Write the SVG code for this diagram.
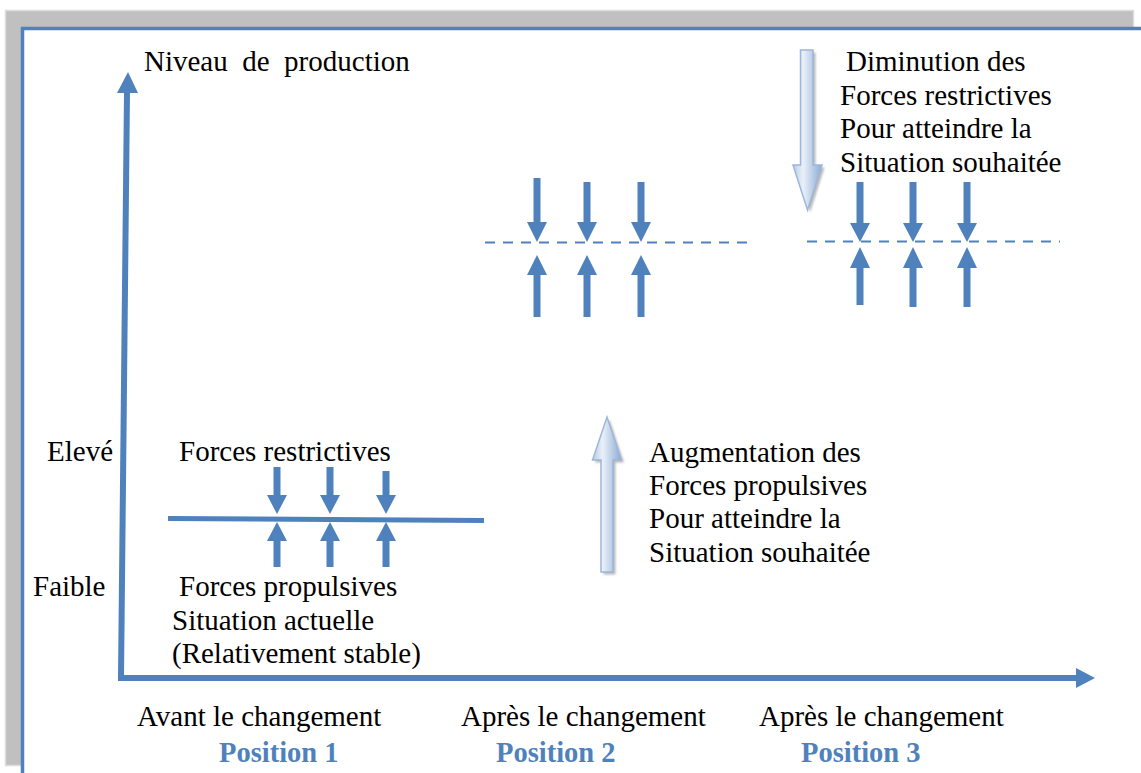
<svg xmlns="http://www.w3.org/2000/svg" width="1141" height="773" viewBox="0 0 1141 773">
  <style>
    .t { font-family: "Liberation Serif", "Times New Roman", serif; font-size: 29px; fill: #000; }
    .pos { font-family: "Liberation Serif", "Times New Roman", serif; font-size: 28.5px; font-weight: bold; fill: #4f81bd; }
    .force { fill: #4f81bd; }
    .axis { stroke: #4f81bd; stroke-width: 6; fill: none; }
    .level { stroke: #4f81bd; stroke-width: 5; fill: none; }
    .dash { stroke: #4f81bd; stroke-width: 2.2; stroke-dasharray: 10 8; fill: none; }
    .big { fill: url(#bigFill); stroke: #9cb7db; stroke-width: 1.5; }
    .bigShadow { fill: #9a9a9a; opacity: 0.7; filter: url(#soft); }
  </style>
  <defs>
    <linearGradient id="bigFill" x1="0" y1="0" x2="1" y2="0">
      <stop offset="0" stop-color="#b7cbe6"/>
      <stop offset="0.35" stop-color="#eaf0f9"/>
      <stop offset="1" stop-color="#8caad4"/>
    </linearGradient>
    <filter id="soft" x="-20%" y="-10%" width="140%" height="120%">
      <feGaussianBlur stdDeviation="1"/>
    </filter>
  </defs>

  <!-- page frame -->
  <g id="frame">
    <rect x="5.5" y="10.5" width="1128" height="755" fill="#c0c0c0" stroke="#dcdcdc" stroke-width="1.5"/>
    <rect x="22.5" y="28.5" width="1130" height="760" fill="#ffffff" stroke="#4f81bd" stroke-width="3.5"/>
  </g>

  <!-- axes -->
  <g id="axes">
    <path class="axis" d="M121 678 L127 92"/>
    <polygon class="force" points="128,72 138,93 117,93"/>
    <path class="axis" d="M118 678 L1077 678"/>
    <polygon class="force" points="1095,678 1076,668 1076,688"/>
  </g>

  <!-- axis labels -->
  <g id="labels">
    <text class="t" x="144" y="71" xml:space="preserve">Niveau  de  production</text>
    <text class="t" x="47" y="461">Elevé</text>
    <text class="t" x="33" y="596">Faible</text>
  </g>

  <!-- position 1: stable situation -->
  <g id="position1">
    <text class="t" x="179" y="461">Forces restrictives</text>
    <path class="level" d="M168 518.5 L484 520.5"/>
    <polygon class="force" points="273.5,467 280.5,467 280.5,495 287,495 277,514 267,495 273.5,495"/>
    <polygon class="force" points="326.5,467 333.5,467 333.5,495 340,495 330,514 320,495 326.5,495"/>
    <polygon class="force" points="382.5,471 389.5,471 389.5,495 396,495 386,514 376,495 382.5,495"/>
    <polygon class="force" points="277,522 287,541 280.5,541 280.5,567 273.5,567 273.5,541 267,541"/>
    <polygon class="force" points="330,522 340,541 333.5,541 333.5,567 326.5,567 326.5,541 320,541"/>
    <polygon class="force" points="386,522 396,541 389.5,541 389.5,567 382.5,567 382.5,541 376,541"/>
    <text class="t" x="179" y="596">Forces propulsives</text>
    <text class="t" x="172" y="630">Situation actuelle</text>
    <text class="t" x="172" y="663">(Relativement stable)</text>
  </g>

  <!-- position 2: driving forces increased -->
  <g id="position2">
    <path class="dash" d="M485 242.5 L747 242.5"/>
    <polygon class="force" points="533.5,178 540.5,178 540.5,222 547,222 537,242 527,222 533.5,222"/>
    <polygon class="force" points="583.5,182 590.5,182 590.5,222 597,222 587,242 577,222 583.5,222"/>
    <polygon class="force" points="637.5,182 644.5,182 644.5,222 651,222 641,242 631,222 637.5,222"/>
    <polygon class="force" points="537,255 547,275 540.5,275 540.5,317 533.5,317 533.5,275 527,275"/>
    <polygon class="force" points="587,255 597,275 590.5,275 590.5,317 583.5,317 583.5,275 577,275"/>
    <polygon class="force" points="641,255 651,275 644.5,275 644.5,317 637.5,317 637.5,275 631,275"/>
  </g>

  <!-- position 3: restraining forces reduced -->
  <g id="position3">
    <path class="dash" d="M807 241.5 L1060 241.5"/>
    <polygon class="force" points="856.5,182 863.5,182 863.5,223 870,223 860,242 850,223 856.5,223"/>
    <polygon class="force" points="909.5,182 916.5,182 916.5,223 923,223 913,242 903,223 909.5,223"/>
    <polygon class="force" points="963.5,182 970.5,182 970.5,223 977,223 967,242 957,223 963.5,223"/>
    <polygon class="force" points="860,247 870,268 863.5,268 863.5,305 856.5,305 856.5,268 850,268"/>
    <polygon class="force" points="913,247 923,268 916.5,268 916.5,307 909.5,307 909.5,268 903,268"/>
    <polygon class="force" points="967,247 977,268 970.5,268 970.5,307 963.5,307 963.5,268 957,268"/>
  </g>

  <!-- change arrows with captions -->
  <g id="increase">
    <polygon class="bigShadow" transform="translate(2.5,2.5)" points="607,417 621.5,460 613,460 613,572 601,572 601,460 592.5,460"/>
    <polygon class="big" points="607,417 621.5,460 613,460 613,572 601,572 601,460 592.5,460"/>
    <text class="t" x="649" y="462">Augmentation des</text>
    <text class="t" x="649" y="495">Forces propulsives</text>
    <text class="t" x="649" y="528">Pour atteindre la</text>
    <text class="t" x="649" y="562">Situation souhaitée</text>
  </g>
  <g id="decrease">
    <polygon class="bigShadow" transform="translate(2.5,2.5)" points="800.5,50 813,50 813,165 822,165 807.5,210 793,165 800.5,165"/>
    <polygon class="big" points="800.5,50 813,50 813,165 822,165 807.5,210 793,165 800.5,165"/>
    <text class="t" x="846" y="71">Diminution des</text>
    <text class="t" x="840" y="105">Forces restrictives</text>
    <text class="t" x="840" y="138">Pour atteindre la</text>
    <text class="t" x="840" y="172">Situation souhaitée</text>
  </g>

  <!-- stage captions -->
  <g id="captions">
    <text class="t" x="137" y="726">Avant le changement</text>
    <text class="pos" x="219" y="762">Position 1</text>
    <text class="t" x="461" y="726">Après le changement</text>
    <text class="pos" x="496" y="762">Position 2</text>
    <text class="t" x="759" y="726">Après le changement</text>
    <text class="pos" x="801" y="762">Position 3</text>
  </g>
</svg>
